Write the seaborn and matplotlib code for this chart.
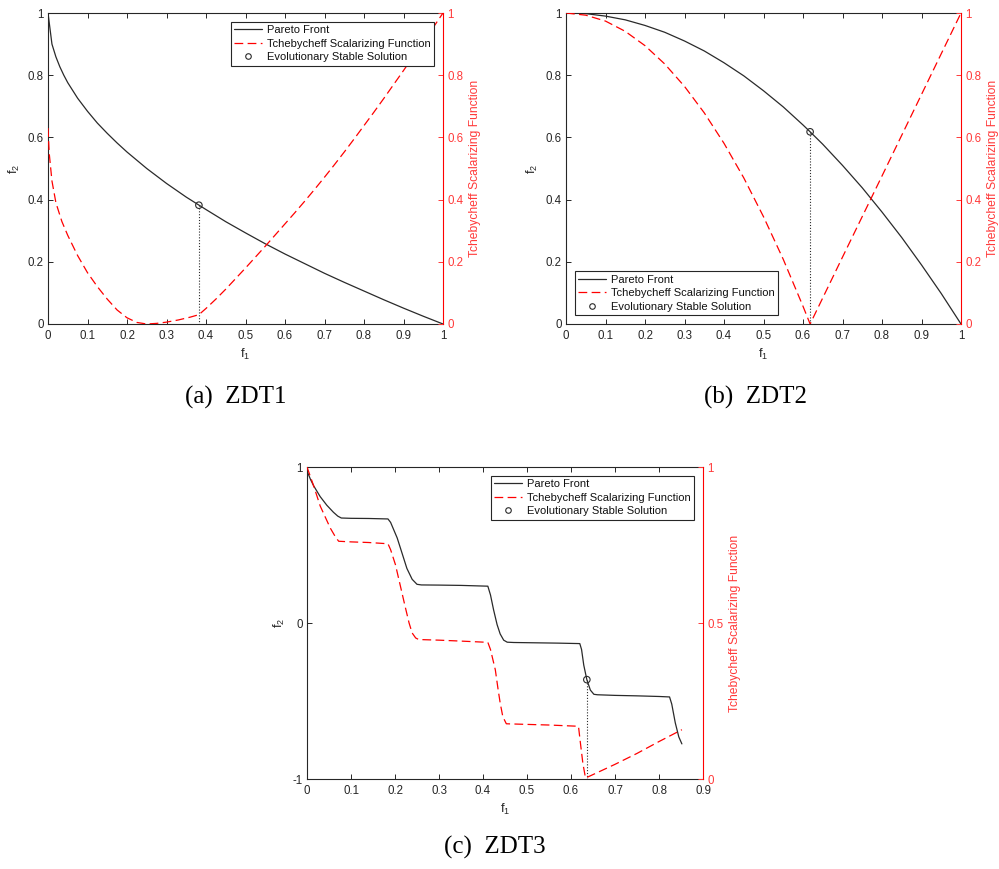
import matplotlib
matplotlib.use("Agg")
import matplotlib.pyplot as plt
import seaborn as sns
import pandas as pd
from matplotlib.lines import Line2D

# ---------------- data ----------------
# ZDT1
zdt1_front_f1 = [0.0, 0.01, 0.02, 0.03, 0.04, 0.05, 0.075, 0.1, 0.125, 0.15, 0.175, 0.2, 0.25,
                 0.3, 0.35, 0.4, 0.45, 0.5, 0.55, 0.6, 0.65, 0.7, 0.75, 0.8, 0.85, 0.9, 0.95, 1.0]
zdt1_front_f2 = [1.0, 0.9, 0.859, 0.827, 0.8, 0.776, 0.726, 0.684, 0.646, 0.613, 0.582, 0.553,
                 0.5, 0.452, 0.408, 0.368, 0.329, 0.293, 0.258, 0.225, 0.194, 0.163, 0.134,
                 0.106, 0.078, 0.051, 0.025, 0.0]
zdt1_tch_f1 = [0.0, 0.003, 0.01, 0.02, 0.035, 0.05, 0.075, 0.1, 0.125, 0.15, 0.175, 0.2, 0.225,
               0.25, 0.275, 0.3, 0.33, 0.36, 0.382, 0.4, 0.425, 0.45, 0.475, 0.5, 0.525, 0.55,
               0.575, 0.6, 0.625, 0.65, 0.675, 0.7, 0.725, 0.75, 0.775, 0.8, 0.825, 0.85,
               0.875, 0.9, 0.925, 0.95, 0.975, 1.0]
zdt1_tch_val = [0.63, 0.55, 0.46, 0.39, 0.33, 0.285, 0.22, 0.165, 0.12, 0.08, 0.045, 0.02, 0.005,
                0.0, 0.002, 0.006, 0.013, 0.022, 0.03, 0.05, 0.08, 0.112, 0.146, 0.18, 0.215,
                0.25, 0.286, 0.322, 0.358, 0.395, 0.433, 0.472, 0.512, 0.553, 0.595, 0.638,
                0.681, 0.725, 0.77, 0.815, 0.861, 0.907, 0.953, 1.0]
zdt1_ess = (0.382, 0.382)

# ZDT2
zdt2_front_f1 = [0.0, 0.05, 0.1, 0.15, 0.2, 0.25, 0.3, 0.35, 0.4, 0.45, 0.5, 0.55, 0.6, 0.618,
                 0.65, 0.7, 0.75, 0.8, 0.85, 0.9, 0.95, 1.0]
zdt2_front_f2 = [1.0, 0.998, 0.99, 0.978, 0.96, 0.938, 0.91, 0.878, 0.84, 0.798, 0.75, 0.698,
                 0.64, 0.618, 0.578, 0.51, 0.438, 0.36, 0.278, 0.19, 0.098, 0.0]
zdt2_tch_f1 = [0.0, 0.05, 0.1, 0.15, 0.2, 0.25, 0.3, 0.35, 0.4, 0.45, 0.5, 0.55, 0.6, 0.618,
               0.7, 0.8, 0.9, 1.0]
zdt2_tch_val = [1.0, 0.993, 0.974, 0.941, 0.895, 0.836, 0.764, 0.679, 0.581, 0.47, 0.345, 0.208,
                0.057, 0.0, 0.215, 0.476, 0.738, 1.0]
zdt2_ess = (0.618, 0.618)

# ZDT3
zdt3_front_f1 = [0.0, 0.008, 0.015, 0.03, 0.045, 0.06, 0.07, 0.078, 0.1, 0.14, 0.184, 0.19, 0.205,
                 0.218, 0.227, 0.239, 0.25, 0.26, 0.3, 0.35, 0.411, 0.417, 0.424, 0.432, 0.439,
                 0.447, 0.455, 0.47, 0.52, 0.57, 0.62, 0.624, 0.629, 0.636, 0.644, 0.652, 0.66,
                 0.7, 0.75, 0.8, 0.824, 0.829, 0.837, 0.845, 0.852]
zdt3_front_f2 = [0.975, 0.92, 0.88, 0.81, 0.755, 0.71, 0.685, 0.673, 0.671, 0.67, 0.667, 0.645,
                 0.545, 0.43, 0.35, 0.28, 0.248, 0.244, 0.243, 0.241, 0.236, 0.18, 0.085, -0.01,
                 -0.07, -0.11, -0.123, -0.125, -0.127, -0.129, -0.132, -0.17, -0.27, -0.363,
                 -0.43, -0.457, -0.46, -0.464, -0.467, -0.471, -0.474, -0.52, -0.64, -0.73, -0.775]
zdt3_tch_f1 = [0.0, 0.015, 0.03, 0.053, 0.065, 0.072, 0.1, 0.14, 0.184, 0.19, 0.201, 0.212, 0.223,
               0.232, 0.239, 0.247, 0.254, 0.3, 0.35, 0.411, 0.417, 0.428, 0.434, 0.439, 0.445,
               0.453, 0.5, 0.55, 0.617, 0.621, 0.627, 0.633, 0.7, 0.75, 0.8, 0.852]
zdt3_tch_val = [1.0, 0.94, 0.875, 0.804, 0.775, 0.762, 0.76, 0.758, 0.754, 0.735, 0.687, 0.62,
                0.553, 0.5, 0.468, 0.452, 0.447, 0.445, 0.442, 0.438, 0.415, 0.35, 0.29, 0.244,
                0.2, 0.177, 0.175, 0.173, 0.169, 0.12, 0.05, 0.003, 0.047, 0.082, 0.12, 0.158]
zdt3_ess = (0.636, -0.363)

xticks_ab = [0, 0.1, 0.2, 0.3, 0.4, 0.5, 0.6, 0.7, 0.8, 0.9, 1]
xticklabels_ab = ["0", "0.1", "0.2", "0.3", "0.4", "0.5", "0.6", "0.7", "0.8", "0.9", "1"]
yticks_ab = [0, 0.2, 0.4, 0.6, 0.8, 1]
yticklabels_ab = ["0", "0.2", "0.4", "0.6", "0.8", "1"]
xticks_c = [0, 0.1, 0.2, 0.3, 0.4, 0.5, 0.6, 0.7, 0.8, 0.9]
xticklabels_c = ["0", "0.1", "0.2", "0.3", "0.4", "0.5", "0.6", "0.7", "0.8", "0.9"]
yticks_c = [-1, 0, 1]
yticklabels_c = ["-1", "0", "1"]
y2ticks_c = [0, 0.5, 1]
y2ticklabels_c = ["0", "0.5", "1"]

legend_labels = ["Pareto Front", "Tchebycheff Scalarizing Function", "Evolutionary Stable Solution"]
right_label = "Tchebycheff Scalarizing Function"
captions = ["(a)  ZDT1", "(b)  ZDT2", "(c)  ZDT3"]

# ---------------- style ----------------
sns.set_theme(style="white")
plt.rcParams["font.family"] = ["Liberation Sans", "DejaVu Sans"]
plt.rcParams["mathtext.fontset"] = "custom"
plt.rcParams["mathtext.rm"] = "Liberation Sans"
plt.rcParams["mathtext.it"] = "Liberation Sans"

BLACK = "#2a2a2a"
AXC = "#262626"
RED = "#ff0000"
REDTXT = "#ff3a3a"
FS = 8.3

fig = plt.figure(figsize=(9.99, 8.69), dpi=100)


def panel(rect, ff1, ff2, tf1, tval, ess, xlim, xt, xtl, ylim, yt, ytl, y2t, y2tl, loc):
    ax = fig.add_axes(rect)
    ax2 = ax.twinx()
    df_f = pd.DataFrame({"f1": ff1, "f2": ff2})
    df_t = pd.DataFrame({"f1": tf1, "v": tval})
    sns.lineplot(data=df_f, x="f1", y="f2", ax=ax, color=BLACK, lw=0.9,
                 estimator=None, sort=False)
    ax.plot([ess[0], ess[0]], [ess[1], ylim[0]], ls=(0, (1, 1.6)), color=BLACK, lw=0.8)
    sns.scatterplot(x=[ess[0]], y=[ess[1]], ax=ax, s=22, marker="o", facecolor="none",
                    edgecolor=BLACK, linewidth=0.8, zorder=5)
    sns.lineplot(data=df_t, x="f1", y="v", ax=ax2, color=RED, lw=0.9,
                 estimator=None, sort=False, dashes=False)
    ax2.lines[-1].set_dashes((7, 3.5))

    ax.set_xlim(*xlim)
    ax.set_ylim(*ylim)
    ax2.set_ylim(0, 1)
    ax.set_xticks(xt)
    ax.set_xticklabels(xtl)
    ax.set_yticks(yt)
    ax.set_yticklabels(ytl)
    ax2.set_yticks(y2t)
    ax2.set_yticklabels(y2tl)

    ax.set_xlabel(r"$\mathregular{f_1}$", fontsize=FS + 1, color=AXC, labelpad=3)
    ax.set_ylabel(r"$\mathregular{f_2}$", fontsize=FS + 1, color=AXC, labelpad=4)
    ax2.set_ylabel(right_label, fontsize=FS + 0.4, color=REDTXT, labelpad=4)

    ax.tick_params(axis="both", which="both", direction="in", length=3.5, width=0.7,
                   labelsize=FS, colors=AXC, pad=3, top=True, bottom=True,
                   left=True, right=False)
    ax.tick_params(axis="x", pad=4.5)
    ax2.tick_params(axis="y", direction="in", length=3.5, width=0.7, labelsize=FS,
                    colors=REDTXT, pad=3, right=True, left=False)
    for s in ["left", "bottom", "top"]:
        ax.spines[s].set_color(AXC)
        ax.spines[s].set_linewidth(0.8)
    for s in ["left", "bottom", "top"]:
        ax2.spines[s].set_visible(False)
    ax.spines["right"].set_visible(False)
    ax2.spines["right"].set_color(RED)
    ax2.spines["right"].set_linewidth(0.8)
    ax.grid(False)
    ax2.grid(False)

    handles = [Line2D([], [], color=BLACK, lw=0.9),
               Line2D([], [], color=RED, lw=0.9, dashes=(7, 3.5)),
               Line2D([], [], color=BLACK, lw=0, marker="o", markersize=4,
                      markerfacecolor="none", markeredgewidth=0.8)]
    leg = ax2.legend(handles, legend_labels, loc=loc, fontsize=8, frameon=True,
                     fancybox=False, framealpha=1, edgecolor=AXC, borderaxespad=0.8,
                     handlelength=2.5, handletextpad=0.45, labelspacing=0.32,
                     borderpad=0.3)
    leg.get_frame().set_linewidth(0.8)
    for t in leg.get_texts():
        t.set_color("#111111")
    return ax, ax2


W = 395 / 999
H = 311 / 869
panel([48 / 999, 1 - 324 / 869, W, H], zdt1_front_f1, zdt1_front_f2, zdt1_tch_f1,
      zdt1_tch_val, zdt1_ess, (0, 1), xticks_ab, xticklabels_ab, (0, 1), yticks_ab,
      yticklabels_ab, yticks_ab, yticklabels_ab, "upper right")
panel([566 / 999, 1 - 324 / 869, W, H], zdt2_front_f1, zdt2_front_f2, zdt2_tch_f1,
      zdt2_tch_val, zdt2_ess, (0, 1), xticks_ab, xticklabels_ab, (0, 1), yticks_ab,
      yticklabels_ab, yticks_ab, yticklabels_ab, "lower left")
panel([307 / 999, 1 - 779 / 869, 396 / 999, 312 / 869], zdt3_front_f1, zdt3_front_f2,
      zdt3_tch_f1, zdt3_tch_val, zdt3_ess, (0, 0.9), xticks_c, xticklabels_c, (-1, 1),
      yticks_c, yticklabels_c, y2ticks_c, y2ticklabels_c, "upper right")

cap_pos = [(236, 397), (755, 397), (495, 847)]
for txt, (cx, cy) in zip(captions, cap_pos):
    fig.text(cx / 999, 1 - cy / 869, txt, ha="center", va="center",
             family=["Liberation Serif", "DejaVu Serif"], fontsize=18, color="black")

fig.savefig("out.png", dpi=100)
